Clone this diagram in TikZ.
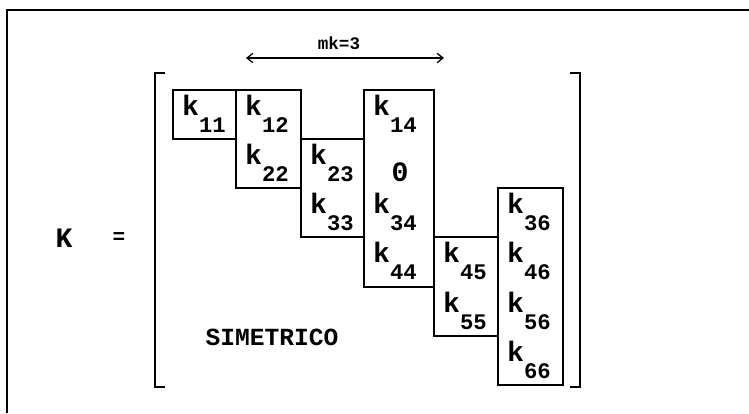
\documentclass[tikz,border=0pt]{standalone}
\usepackage{fontspec}
\setmonofont{Liberation Mono}
\usetikzlibrary{arrows.meta}
\newcommand{\kfont}{\ttfamily\bfseries\fontsize{24}{24}\selectfont}
\newcommand{\subfont}{\ttfamily\bfseries\fontsize{19}{19}\selectfont}
\newcommand{\kij}[1]{{\kfont k}\raisebox{-15pt}{\subfont #1}}

\begin{document}
\begin{tikzpicture}[
  x=0.03cm, y=-0.03cm,
  band/.style={draw, line width=1.6pt},
  entry/.style={anchor=base west, inner sep=0pt},
  bracket/.style={line width=2.2pt},
]
\useasboundingbox (0,0) rectangle (749,413);

% Frame (only top and left edges are visible)
\draw[line width=1.6pt] (7,413) -- (7,10) -- (749,10);

% Column and row edges of the band (in px)
\def\colA{173} \def\colB{236} \def\colC{301} \def\colD{364}
\def\colE{434} \def\colF{498} \def\colG{563}
\def\rowA{90}  \def\rowB{139} \def\rowC{188} \def\rowD{237}
\def\rowE{287} \def\rowF{336} \def\rowG{385}

% Left hand side
\node[font=\ttfamily\bfseries\fontsize{24}{24}\selectfont] (K) at (64,238) {K};
\node[font=\ttfamily\bfseries\fontsize{18}{18}\selectfont] (eq) at (119,238) {=};

% Brackets
\draw[bracket] (165,73) -- (155,73) -- (155,387) -- (165,387);
\draw[bracket] (570,73) -- (580,73) -- (580,387) -- (570,387);

% Skyline columns
\draw[band] (\colA,\rowA) rectangle (\colB,\rowB);
\draw[band] (\colB,\rowA) rectangle (\colC,\rowC);
\draw[band] (\colC,\rowB) rectangle (\colD,\rowD);
\draw[band] (\colD,\rowA) rectangle (\colE,\rowE);
\draw[band] (\colE,\rowD) rectangle (\colF,\rowF);
\draw[band] (\colF,\rowC) rectangle (\colG,\rowG);

% Column 1
\node[entry] (k11) at (\colA+9,\rowA+25) {\kij{11}};
% Column 2
\node[entry] (k12) at (\colB+9,\rowA+25) {\kij{12}};
\node[entry] (k22) at (\colB+9,\rowB+25) {\kij{22}};
% Column 3
\node[entry] (k23) at (\colC+9,\rowB+25) {\kij{23}};
\node[entry] (k33) at (\colC+9,\rowC+25) {\kij{33}};
% Column 4
\node[entry] (k14) at (\colD+9,\rowA+25) {\kij{14}};
\node[font=\kfont] (z24) at (400,172) {0};
\node[entry] (k34) at (\colD+9,\rowC+25) {\kij{34}};
\node[entry] (k44) at (\colD+9,\rowD+25) {\kij{44}};
% Column 5
\node[entry] (k45) at (\colE+9,\rowD+25) {\kij{45}};
\node[entry] (k55) at (\colE+9,\rowE+25) {\kij{55}};
% Column 6
\node[entry] (k36) at (\colF+9,\rowC+25) {\kij{36}};
\node[entry] (k46) at (\colF+9,\rowD+25) {\kij{46}};
\node[entry] (k56) at (\colF+9,\rowE+25) {\kij{56}};
\node[entry] (k66) at (\colF+9,\rowF+25) {\kij{66}};

% Half band width
\coordinate (mA) at (246,58);
\coordinate (mB) at (444,58);
\draw[{Straight Barb[length=5pt,width=8pt]}-{Straight Barb[length=5pt,width=8pt]}, line width=1.1pt] (mA) -- (mB);
\node[font=\ttfamily\bfseries\fontsize{15}{15}\selectfont] (mk) at (339,43) {mk=3};

\node[font=\ttfamily\bfseries\fontsize{21}{21}\selectfont] (sim) at (272,337) {SIMETRICO};

\end{tikzpicture}
\end{document}
